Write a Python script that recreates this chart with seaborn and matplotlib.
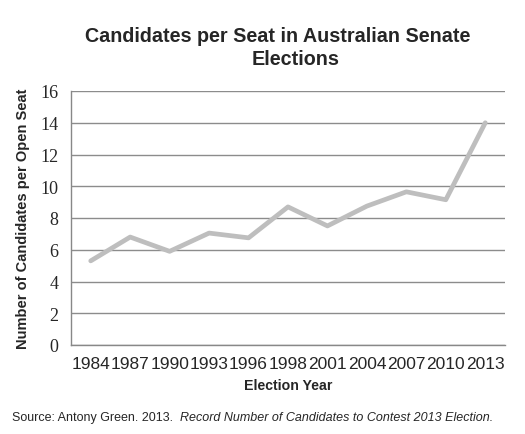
import matplotlib
matplotlib.use("Agg")
import matplotlib.pyplot as plt
import seaborn as sns
import pandas as pd
from matplotlib.ticker import FixedLocator

years = ["1984", "1987", "1990", "1993", "1996", "1998", "2001", "2004", "2007", "2010", "2013"]
candidates_per_seat = [5.3, 6.8, 5.9, 7.05, 6.75, 8.7, 7.5, 8.75, 9.65, 9.15, 14.0]
y_ticks = [0, 2, 4, 6, 8, 10, 12, 14, 16]

df = pd.DataFrame({"year": years, "cps": candidates_per_seat})
df["pos"] = range(len(years))

sns.set_style("white")
plt.rcParams["font.family"] = ["Liberation Sans", "DejaVu Sans"]

fig = plt.figure(figsize=(5.25, 4.35), dpi=100)
ax = fig.add_axes([71 / 525, 1 - 346 / 435, 434 / 525, 254 / 435])

sns.lineplot(data=df, x="pos", y="cps", color="#BEBEBE", linewidth=3.4, ax=ax)

ax.set_xlim(-0.5, len(years) - 0.5)
ax.set_ylim(0, 16)
ax.set_yticks(y_ticks)
ax.set_yticklabels([str(t) for t in y_ticks], fontfamily="Liberation Serif", fontsize=13)
ax.set_xticks(df["pos"])
ax.set_xticklabels(years, fontsize=12.5)
ax.xaxis.set_minor_locator(FixedLocator([i - 0.5 for i in range(len(years) + 1)]))
ax.tick_params(axis="x", which="major", length=0, pad=8)
ax.tick_params(axis="x", which="minor", length=5, color="#888888", width=1)
ax.tick_params(axis="y", length=5, color="#888888", width=1, pad=4)
ax.grid(axis="y", color="#8C8C8C", linewidth=1)
ax.set_axisbelow(True)
for s in ["top", "right"]:
    ax.spines[s].set_visible(False)
for s in ["left", "bottom"]:
    ax.spines[s].set_color("#888888")
    ax.spines[s].set_linewidth(1)

ax.set_xlabel("Election Year", fontsize=10.2, fontweight="bold", labelpad=5)
ax.set_ylabel("Number of Candidates per Open Seat", fontsize=10.5, fontweight="bold")
ax.yaxis.set_label_coords(-0.095, 0.5)

fig.text(278 / 525, 1 - 42 / 435, "Candidates per Seat in Australian Senate",
         ha="center", va="baseline", fontsize=14.2, fontweight="bold")
fig.text(296 / 525, 1 - 65 / 435, "Elections",
         ha="center", va="baseline", fontsize=14.2, fontweight="bold")

t1 = fig.text(12 / 525, 1 - 421 / 435, "Source: Antony Green. 2013.  ",
              ha="left", va="baseline", fontsize=9)
fig.canvas.draw()
bb = t1.get_window_extent(renderer=fig.canvas.get_renderer())
fig.text(bb.x1 / fig.bbox.width, 1 - 421 / 435,
         "Record Number of Candidates to Contest 2013 Election.",
         ha="left", va="baseline", fontsize=9, style="italic")

fig.savefig("out.png", dpi=100)
